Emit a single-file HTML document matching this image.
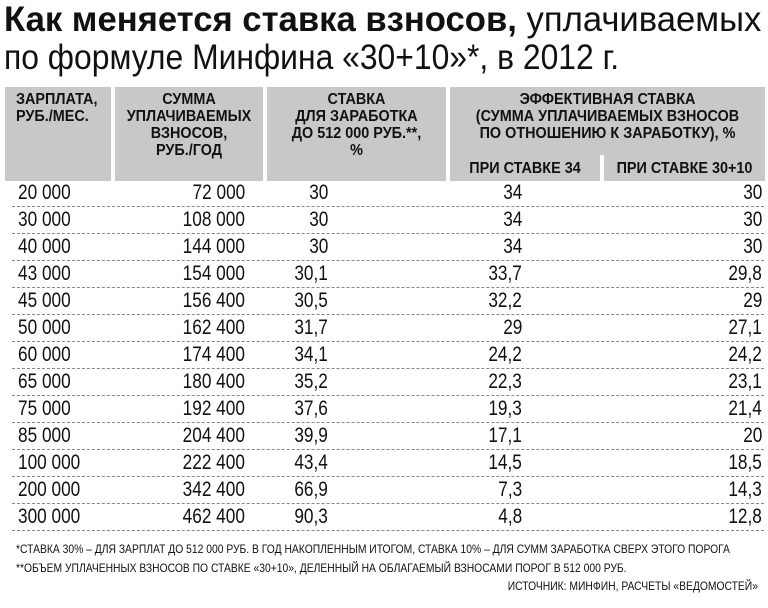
<!DOCTYPE html>
<html><head><meta charset="utf-8"><style>
body{margin:0;width:768px;height:608px;background:#fff;position:relative;overflow:hidden;font-family:"Liberation Sans",sans-serif;color:#111}
.a{position:absolute;white-space:nowrap}
.t{font-size:35px;line-height:35px;transform-origin:left top}
.hb{position:absolute;background:#c8c8c8}
.h{position:absolute;font-size:16px;font-weight:bold;line-height:17px;text-align:center;transform:scaleX(0.9);transform-origin:center top;white-space:nowrap}
.r{position:absolute;left:12px;width:752px;height:27px;font-size:21px;border-bottom:1px dashed #888;box-sizing:border-box}
.r span{position:absolute;top:1px;transform:scaleX(0.82);white-space:nowrap}
.c1{left:6px;transform-origin:left top}
.c2{right:519px;transform-origin:right top}
.c3{right:436px;transform-origin:right top}
.c4{right:242px;transform-origin:right top}
.c5{right:2px;transform-origin:right top}
.f{position:absolute;font-size:12px;transform:scaleX(0.86);transform-origin:left top;white-space:nowrap}
</style></head><body>
<div class="a t" style="left:4px;top:2px;transform:scaleX(0.99)"><b>Как меняется ставка взносов,</b> уплачиваемых</div>
<div class="a t" style="left:4px;top:40px;transform:scaleX(0.91)">по формуле Минфина «30+10»*, в 2012 г.</div>
<div class="hb" style="left:5px;top:87px;width:106px;height:94px"></div>
<div class="hb" style="left:115px;top:87px;width:148px;height:94px"></div>
<div class="hb" style="left:267px;top:87px;width:179px;height:94px"></div>
<div class="hb" style="left:450px;top:87px;width:315px;height:68px"></div>
<div class="hb" style="left:450px;top:155px;width:150px;height:26px"></div>
<div class="hb" style="left:604px;top:155px;width:161px;height:26px"></div>
<div class="h" style="top:91px;text-align:left;left:16px;transform-origin:left top">ЗАРПЛАТА,<br>РУБ./МЕС.</div>
<div class="h" style="left:115px;top:91px;width:148px">СУММА<br>УПЛАЧИВАЕМЫХ<br>ВЗНОСОВ,<br>РУБ./ГОД</div>
<div class="h" style="left:267px;top:91px;width:179px">СТАВКА<br>ДЛЯ ЗАРАБОТКА<br>ДО 512 000 РУБ.**,<br>%</div>
<div class="h" style="left:450px;top:91px;width:315px">ЭФФЕКТИВНАЯ СТАВКА<br>(СУММА УПЛАЧИВАЕМЫХ ВЗНОСОВ<br>ПО ОТНОШЕНИЮ К ЗАРАБОТКУ), %</div>
<div class="h" style="left:450px;top:160px;width:150px">ПРИ СТАВКЕ 34</div>
<div class="h" style="left:604px;top:160px;width:161px">ПРИ СТАВКЕ 30+10</div>
<div class="r" style="top:180px"><span class="c1">20 000</span><span class="c2">72 000</span><span class="c3">30</span><span class="c4">34</span><span class="c5">30</span></div>
<div class="r" style="top:207px"><span class="c1">30 000</span><span class="c2">108 000</span><span class="c3">30</span><span class="c4">34</span><span class="c5">30</span></div>
<div class="r" style="top:234px"><span class="c1">40 000</span><span class="c2">144 000</span><span class="c3">30</span><span class="c4">34</span><span class="c5">30</span></div>
<div class="r" style="top:261px"><span class="c1">43 000</span><span class="c2">154 000</span><span class="c3">30,1</span><span class="c4">33,7</span><span class="c5">29,8</span></div>
<div class="r" style="top:288px"><span class="c1">45 000</span><span class="c2">156 400</span><span class="c3">30,5</span><span class="c4">32,2</span><span class="c5">29</span></div>
<div class="r" style="top:315px"><span class="c1">50 000</span><span class="c2">162 400</span><span class="c3">31,7</span><span class="c4">29</span><span class="c5">27,1</span></div>
<div class="r" style="top:342px"><span class="c1">60 000</span><span class="c2">174 400</span><span class="c3">34,1</span><span class="c4">24,2</span><span class="c5">24,2</span></div>
<div class="r" style="top:369px"><span class="c1">65 000</span><span class="c2">180 400</span><span class="c3">35,2</span><span class="c4">22,3</span><span class="c5">23,1</span></div>
<div class="r" style="top:396px"><span class="c1">75 000</span><span class="c2">192 400</span><span class="c3">37,6</span><span class="c4">19,3</span><span class="c5">21,4</span></div>
<div class="r" style="top:423px"><span class="c1">85 000</span><span class="c2">204 400</span><span class="c3">39,9</span><span class="c4">17,1</span><span class="c5">20</span></div>
<div class="r" style="top:450px"><span class="c1">100 000</span><span class="c2">222 400</span><span class="c3">43,4</span><span class="c4">14,5</span><span class="c5">18,5</span></div>
<div class="r" style="top:477px"><span class="c1">200 000</span><span class="c2">342 400</span><span class="c3">66,9</span><span class="c4">7,3</span><span class="c5">14,3</span></div>
<div class="r" style="top:504px"><span class="c1">300 000</span><span class="c2">462 400</span><span class="c3">90,3</span><span class="c4">4,8</span><span class="c5">12,8</span></div>
<div class="f" style="left:16px;top:542px">*СТАВКА 30% – ДЛЯ ЗАРПЛАТ ДО 512 000 РУБ. В ГОД НАКОПЛЕННЫМ ИТОГОМ, СТАВКА 10% – ДЛЯ СУММ ЗАРАБОТКА СВЕРХ ЭТОГО ПОРОГА</div>
<div class="f" style="left:16px;top:561px">**ОБЪЕМ УПЛАЧЕННЫХ ВЗНОСОВ ПО СТАВКЕ «30+10», ДЕЛЕННЫЙ НА ОБЛАГАЕМЫЙ ВЗНОСАМИ ПОРОГ В 512 000 РУБ.</div>
<div class="f" style="right:10px;top:579px;transform-origin:right top">ИСТОЧНИК: МИНФИН, РАСЧЕТЫ «ВЕДОМОСТЕЙ»</div>
</body></html>
